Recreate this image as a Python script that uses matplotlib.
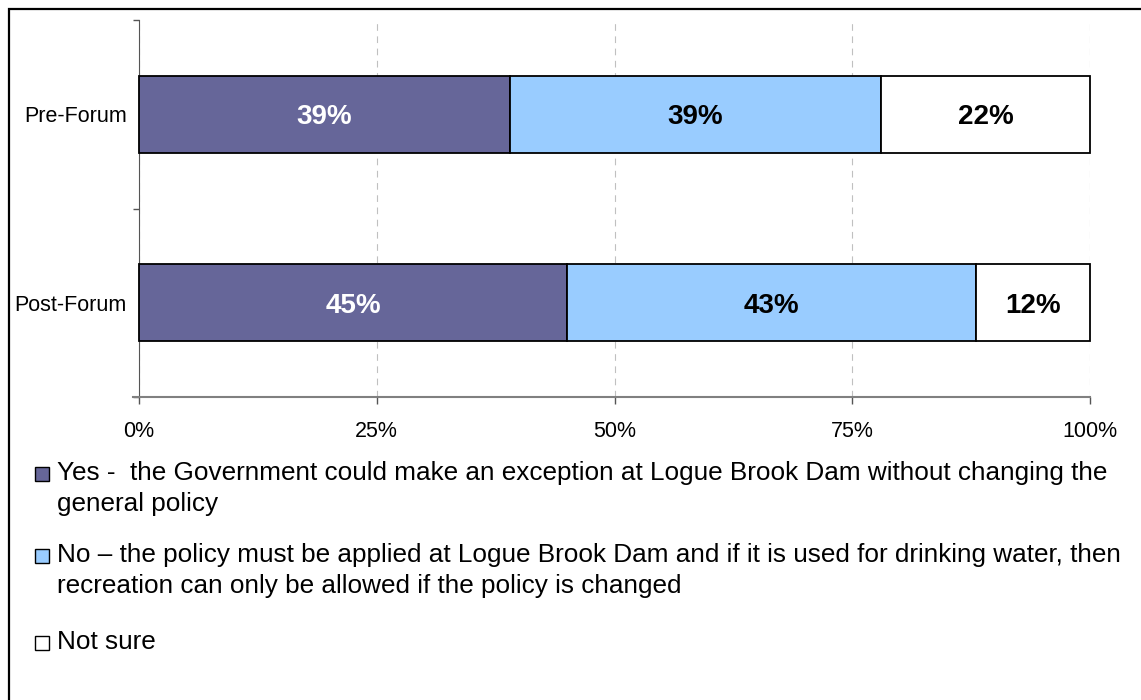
import matplotlib
matplotlib.use("Agg")
import matplotlib.pyplot as plt
from matplotlib.patches import Rectangle
from matplotlib.ticker import FixedLocator

plt.rcParams["font.family"] = ["Liberation Sans", "DejaVu Sans"]

# Data
groups = ["Post-Forum", "Pre-Forum"]
yes_vals = [45, 39]
no_vals = [43, 39]
unsure_vals = [12, 22]
series_names = [
    "Yes -  the Government could make an exception at Logue Brook Dam without changing the\ngeneral policy",
    "No \u2013 the policy must be applied at Logue Brook Dam and if it is used for drinking water, then\nrecreation can only be allowed if the policy is changed",
    "Not sure",
]
x_ticks = [0, 25, 50, 75, 100]
x_tick_labels = ["0%", "25%", "50%", "75%", "100%"]

colors = ["#666699", "#99CCFF", "#FFFFFF"]
text_colors = ["white", "black", "black"]

W, H = 1141, 700
fig = plt.figure(figsize=(W / 100, H / 100), dpi=100)
ax = fig.add_axes([139 / W, 1 - 397 / H, (1090 - 139) / W, (397 - 20) / H])

ypos = list(range(len(groups)))
left = [0] * len(groups)
for vals, col, tcol in zip([yes_vals, no_vals, unsure_vals], colors, text_colors):
    bars = ax.barh(ypos, vals, left=left, height=0.41, color=col,
                   edgecolor="black", linewidth=1.3, zorder=3, clip_on=False)
    for b, v in zip(bars, vals):
        ax.text(b.get_x() + b.get_width() / 2, b.get_y() + b.get_height() / 2,
                f"{v}%", ha="center", va="center_baseline", color=tcol,
                fontsize=20, fontweight="bold", zorder=4)
    left = [l + v for l, v in zip(left, vals)]

ax.set_xlim(0, 100)
ax.set_ylim(-0.5, len(groups) - 0.5)
ax.set_xticks(x_ticks)
ax.set_xticklabels(x_tick_labels, fontsize=15.5)
ax.set_yticks(ypos)
ax.set_yticklabels(groups, fontsize=15.5)
ax.yaxis.set_minor_locator(FixedLocator([-0.5, 0.5, 1.5]))
ax.tick_params(axis="y", which="major", length=0, pad=9)
ax.tick_params(axis="y", which="minor", length=4.5, width=1, color="#555555")
ax.tick_params(axis="x", length=5, width=1, color="#555555", pad=12)

ax.grid(axis="x", linestyle=(0, (6, 5)), color="#c0c0c0", linewidth=0.8, zorder=0)
for s in ["top", "right"]:
    ax.spines[s].set_visible(False)
ax.spines["left"].set_color("#555555")
ax.spines["bottom"].set_color("#808080")
ax.spines["bottom"].set_linewidth(1.5)
ax.spines["bottom"].set_bounds(-0.6, 100)

# Legend drawn as text lines with square markers
baselines = [480, 562, 649]
for name, col, yb in zip(series_names, colors, baselines):
    for i, line in enumerate(name.split("\n")):
        fig.text(57 / W, 1 - (yb + i * 31) / H, line, fontsize=18.8,
                 ha="left", va="baseline")
    fig.patches.append(Rectangle((35 / W, 1 - (yb + 1) / H), 14 / W, 14 / H,
                                 transform=fig.transFigure, facecolor=col,
                                 edgecolor="black", linewidth=1.0))

# Outer border
fig.patches.append(Rectangle((9 / W, -0.1), 1.2, 1 - 9 / H + 0.1,
                             transform=fig.transFigure, fill=False,
                             edgecolor="black", linewidth=1.6))

fig.savefig("out.png", dpi=100)
